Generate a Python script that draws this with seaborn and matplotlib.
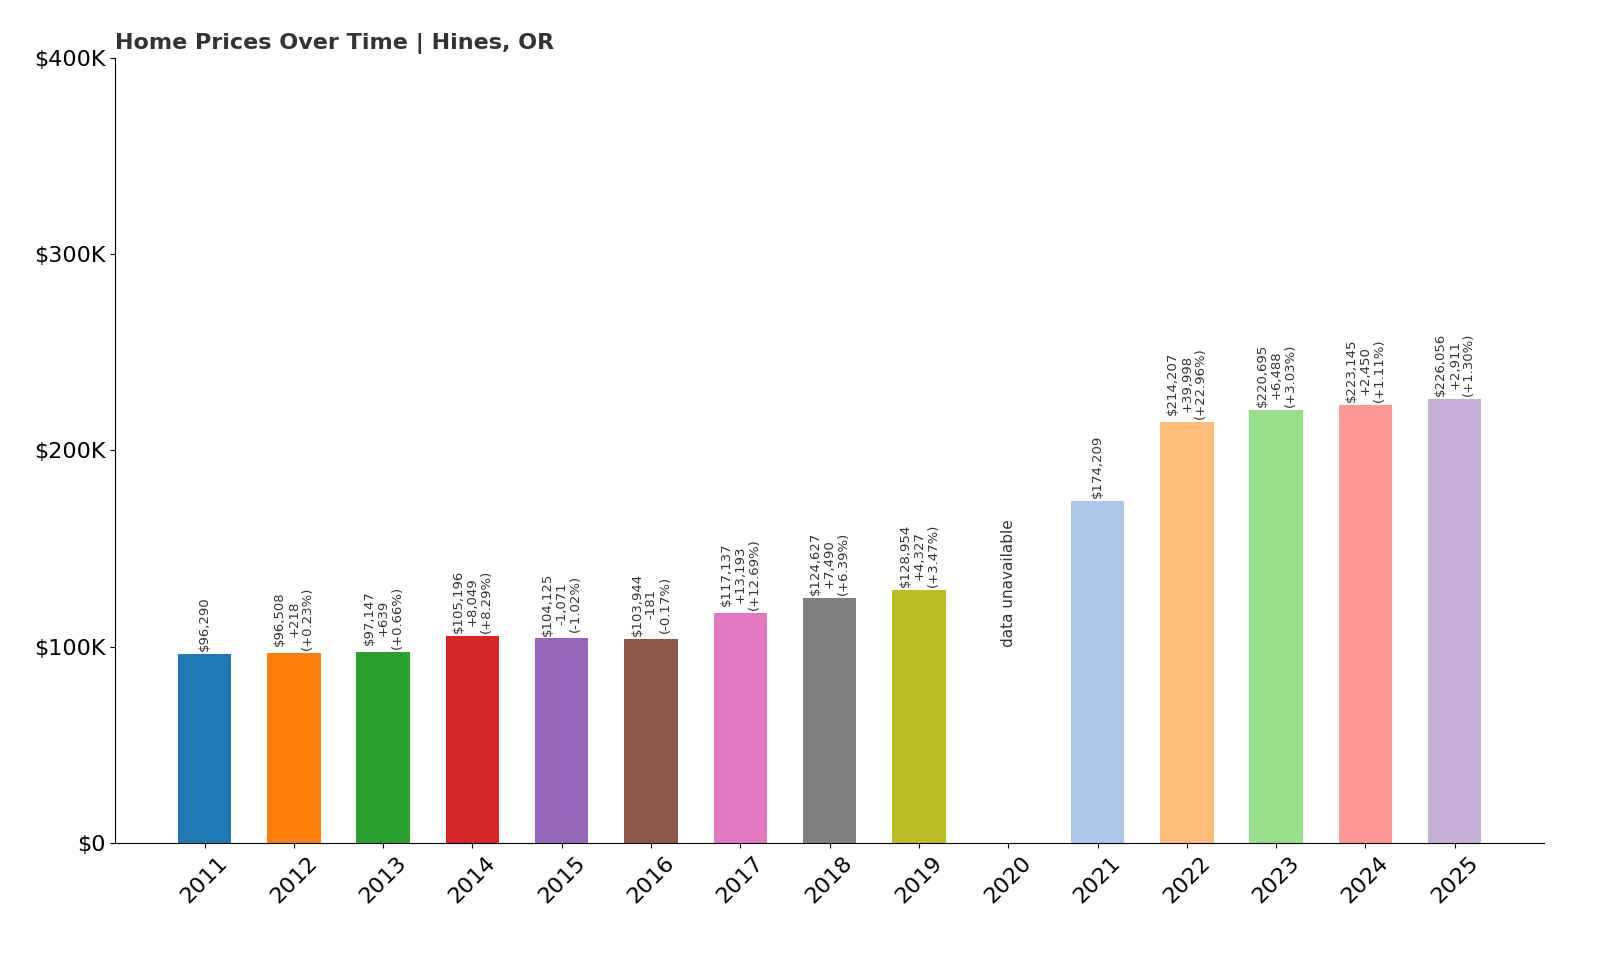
import matplotlib
matplotlib.use("Agg")
import matplotlib.pyplot as plt
import seaborn as sns
import numpy as np
import pandas as pd

years = [str(y) for y in range(2011, 2026)]
values = [96290, 96508, 97147, 105196, 104125, 103944, 117137, 124627, 128954,
          np.nan, 174209, 214207, 220695, 223145, 226056]
changes = [None, "+218", "+639", "+8,049", "-1,071", "-181", "+13,193", "+7,490", "+4,327",
           None, None, "+39,998", "+6,488", "+2,450", "+2,911"]
pcts = [None, "(+0.23%)", "(+0.66%)", "(+8.29%)", "(-1.02%)", "(-0.17%)", "(+12.69%)",
        "(+6.39%)", "(+3.47%)", None, None, "(+22.96%)", "(+3.03%)", "(+1.11%)", "(+1.30%)"]
yticks = [0, 100000, 200000, 300000, 400000]
ytick_labels = ["$0", "$100K", "$200K", "$300K", "$400K"]

t10 = sns.color_palette("tab10")
t20 = sns.color_palette("tab20")
colors = t10[:10] + [t20[1], t20[3], t20[5], t20[7], t20[9]]

df = pd.DataFrame({"year": years, "value": values})
fig = plt.figure(figsize=(16, 9.6), dpi=100)
ax = fig.add_axes([0.072, 0.122, 0.893, 0.818])
sns.barplot(data=df, x="year", y="value", hue="year", palette=colors, legend=False,
            width=0.6, ax=ax, saturation=1)

for i, v in enumerate(values):
    if np.isnan(v):
        ax.text(i, 100000, "data unavailable", rotation=90, ha="center", va="bottom",
                fontsize=11, color="#333333")
        continue
    lines = [f"${v:,.0f}"]
    if changes[i]:
        lines += [changes[i], pcts[i]]
    ax.text(i, v + 1500, "\n".join(lines), rotation=90, ha="center", va="bottom",
            fontsize=9.5, color="#333333", linespacing=1.1)

ax.set_xlim(-1, 15)
ax.set_ylim(0, 400000)
ax.set_yticks(yticks)
ax.set_yticklabels(ytick_labels, fontsize=16)
ax.tick_params(axis="x", labelsize=16, labelrotation=45)
for lab in ax.get_xticklabels():
    lab.set_ha("center")
ax.set_xlabel("")
ax.set_ylabel("")
sns.despine(ax=ax)
ax.set_title("Home Prices Over Time | Hines, OR", loc="left", fontsize=16,
             fontweight="bold", color="#333333")
fig.savefig("out.png", dpi=100)
